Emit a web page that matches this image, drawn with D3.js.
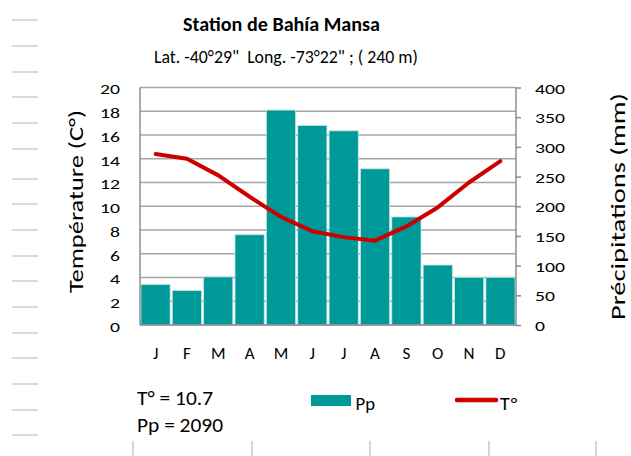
<!DOCTYPE html>
<html><head><meta charset="utf-8">
<script src="https://cdn.jsdelivr.net/npm/d3@7"></script>
<style>html,body{margin:0;padding:0;background:#fff;}svg{display:block;}text{white-space:pre;}</style>
</head><body>
<script>
const months = ["J","F","M","A","M","J","J","A","S","O","N","D"];
const precip = [68, 58, 81, 152, 362, 336, 327, 263, 182, 101, 80, 80];
const temp = [14.4, 14.0, 12.6, 10.8, 9.1, 7.9, 7.4, 7.1, 8.3, 9.9, 12.0, 13.8];
const tempTicks = [0,2,4,6,8,10,12,14,16,18,20];
const precipTicks = [0,50,100,150,200,250,300,350,400];
const title = "Station de Bahía Mansa";
const subtitle = "Lat. -40°29\"  Long. -73°22\" ; ( 240 m)";
const statLines = ["T° = 10.7", "Pp = 2090"];
const legendItems = ["Pp", "Tº"];

const W = 631, H = 456;
const font = "Carlito, Calibri, Lato, 'Open Sans', sans-serif";
const svg = d3.select("body").append("svg").attr("width", W).attr("height", H)
  .style("font-family", font);

function fit(sel, len) {
  return sel.attr("textLength", len).attr("lengthAdjust", "spacingAndGlyphs");
}

// decorative margin lines
const sideY = [20,46,72,97,123,149,179,204,230,256,281,307,333,358,384,410,435];
svg.selectAll("line.side").data(sideY).enter().append("line")
  .attr("x1", 12).attr("x2", 38).attr("y1", d => d).attr("y2", d => d)
  .attr("stroke", "#dadada").attr("stroke-width", 2);
const bottomX = [133, 252, 370, 489, 596];
svg.selectAll("line.bot").data(bottomX).enter().append("line")
  .attr("x1", d => d).attr("x2", d => d).attr("y1", 441).attr("y2", 456)
  .attr("stroke", "#d6d6d6").attr("stroke-width", 2);

const L = 140, R = 516, T = 87.5, B = 325;
const x = d3.scaleBand().domain(d3.range(12)).range([L, R]).paddingInner(0.07).paddingOuter(0.03);
const yT = d3.scaleLinear().domain([0, 20]).range([B, T]);
const yP = d3.scaleLinear().domain([0, 400]).range([B, T]);

// gridlines
svg.append("g").selectAll("line").data(tempTicks).enter().append("line")
  .attr("x1", L).attr("x2", R).attr("y1", d => yT(d)).attr("y2", d => yT(d))
  .attr("stroke", "#a6a6a6").attr("stroke-width", 1.5);

// bars
svg.append("g").selectAll("rect").data(precip).enter().append("rect")
  .attr("x", (d, i) => x(i)).attr("width", x.bandwidth())
  .attr("y", d => yP(d)).attr("height", d => B - yP(d))
  .attr("fill", "#009999").attr("stroke", "#bfe3e3").attr("stroke-width", 0.8);

// axes
svg.append("line").attr("x1", L).attr("x2", L).attr("y1", T).attr("y2", B)
  .attr("stroke", "#8c8c8c").attr("stroke-width", 1.5);
svg.append("line").attr("x1", R).attr("x2", R).attr("y1", T).attr("y2", B)
  .attr("stroke", "#8c8c8c").attr("stroke-width", 1.5);
svg.append("line").attr("x1", L).attr("x2", R).attr("y1", B).attr("y2", B)
  .attr("stroke", "#8c8c8c").attr("stroke-width", 1.5);

const axL = svg.append("g").attr("transform", `translate(${L},0)`)
  .call(d3.axisLeft(yT).tickValues(tempTicks).tickSize(0).tickPadding(20));
axL.select(".domain").remove();
axL.selectAll("text").style("font-family", font).style("font-size", "14px").attr("fill", "#000")
  .attr("dy", "0.45em")
  .attr("textLength", d => String(d).length * 10).attr("lengthAdjust", "spacingAndGlyphs");

const axR = svg.append("g").attr("transform", `translate(${R},0)`)
  .call(d3.axisRight(yP).tickValues(precipTicks).tickSize(5).tickPadding(14));
axR.select(".domain").remove();
axR.selectAll("line").attr("stroke", "#8c8c8c").attr("stroke-width", 1.5);
axR.selectAll("text").style("font-family", font).style("font-size", "14px").attr("fill", "#000")
  .attr("dy", "0.4em")
  .attr("textLength", d => String(d).length * 10).attr("lengthAdjust", "spacingAndGlyphs");

// month labels
svg.append("g").selectAll("text").data(months).enter().append("text")
  .attr("x", (d, i) => L + (R - L) / 12 * (i + 0.5)).attr("y", 359)
  .attr("text-anchor", "middle").style("font-size", "17px").text(d => d);

// temperature line
const cx = i => L + (R - L) / 12 * (i + 0.5);
svg.append("path").datum(temp)
  .attr("d", d3.line().x((d, i) => cx(i)).y(d => yT(d)))
  .attr("fill", "none").attr("stroke", "#cc0000").attr("stroke-width", 4)
  .attr("stroke-linecap", "round").attr("stroke-linejoin", "round");

// titles
fit(svg.append("text").attr("x", 183).attr("y", 31)
  .style("font-size", "20px").style("font-weight", "bold").text(title), 197);
fit(svg.append("text").attr("x", 154).attr("y", 63)
  .style("font-size", "18.5px").text(subtitle), 264);

fit(svg.append("text").attr("transform", "translate(83,293) rotate(-90)")
  .style("font-size", "21px").text("Température (C°)"), 183);
fit(svg.append("text").attr("transform", "translate(625,320) rotate(-90)")
  .style("font-size", "20.5px").text("Précipitations (mm)"), 227);

// stats
const statW = [76, 86];
svg.selectAll("text.stat").data(statLines).enter().append("text")
  .attr("x", 137).attr("y", (d, i) => 405 + i * 26.5).style("font-size", "19.5px")
  .attr("textLength", (d, i) => statW[i]).attr("lengthAdjust", "spacingAndGlyphs")
  .text(d => d);

// legend
svg.append("rect").attr("x", 311).attr("y", 395).attr("width", 40).attr("height", 11).attr("fill", "#009999");
fit(svg.append("text").attr("x", 355.5).attr("y", 410).style("font-size", "18px").text(legendItems[0]), 19.5);
svg.append("line").attr("x1", 457).attr("x2", 496).attr("y1", 400).attr("y2", 400)
  .attr("stroke", "#cc0000").attr("stroke-width", 4.5).attr("stroke-linecap", "round");
fit(svg.append("text").attr("x", 500).attr("y", 410).style("font-size", "18px").text(legendItems[1]), 18);
</script>
</body></html>
